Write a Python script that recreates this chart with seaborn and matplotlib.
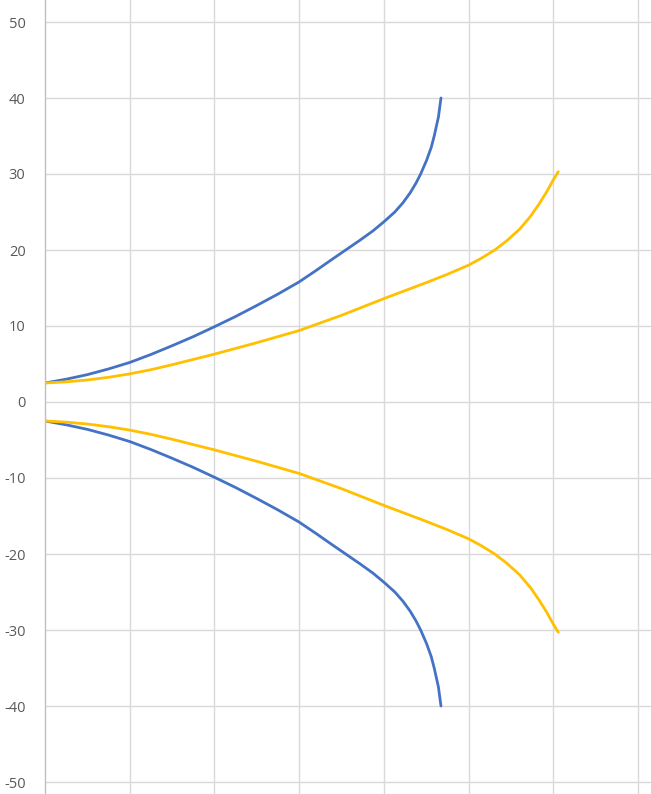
import matplotlib
matplotlib.use("Agg")
import matplotlib.pyplot as plt
import seaborn as sns
import numpy as np
import pandas as pd

# upper / lower branches of the two curves
blue_x = [0, 0.25, 0.5, 0.75, 1.0, 1.25, 1.5, 1.75, 2.0, 2.25, 2.5, 2.75, 3.0, 3.2, 3.38,
          3.55, 3.72, 3.87, 4.0, 4.13, 4.225, 4.31, 4.38, 4.435, 4.505, 4.56, 4.595, 4.645, 4.675]
blue_upper = [2.5, 3.0, 3.6, 4.35, 5.2, 6.25, 7.4, 8.6, 9.9, 11.25, 12.7, 14.2, 15.8, 17.3, 18.7,
              20.0, 21.3, 22.5, 23.7, 25.0, 26.2, 27.5, 28.8, 30.0, 31.8, 33.5, 35.0, 37.5, 40.0]
blue_lower = [-2.5, -3.0, -3.6, -4.35, -5.2, -6.25, -7.4, -8.6, -9.9, -11.25, -12.7, -14.2, -15.8, -17.3, -18.7,
              -20.0, -21.3, -22.5, -23.7, -25.0, -26.2, -27.5, -28.8, -30.0, -31.8, -33.5, -35.0, -37.5, -40.0]

yellow_x = [0, 0.25, 0.5, 0.75, 1.0, 1.25, 1.5, 1.75, 2.0, 2.25, 2.5, 2.75, 3.0, 3.25, 3.5, 3.75,
            4.0, 4.25, 4.5, 4.75, 5.0, 5.15, 5.31, 5.45, 5.6, 5.73, 5.83, 5.92, 6.0, 6.06]
yellow_upper = [2.5, 2.65, 2.9, 3.25, 3.7, 4.25, 4.9, 5.6, 6.3, 7.05, 7.8, 8.6, 9.4, 10.4, 11.4, 12.5,
                13.6, 14.65, 15.7, 16.8, 18.0, 18.9, 20.0, 21.2, 22.7, 24.4, 26.0, 27.6, 29.2, 30.3]
yellow_lower = [-2.5, -2.65, -2.9, -3.25, -3.7, -4.25, -4.9, -5.6, -6.3, -7.05, -7.8, -8.6, -9.4, -10.4, -11.4, -12.5,
                -13.6, -14.65, -15.7, -16.8, -18.0, -18.9, -20.0, -21.2, -22.7, -24.4, -26.0, -27.6, -29.2, -30.3]

y_ticks = [-50, -40, -30, -20, -10, 0, 10, 20, 30, 40, 50]
x_grid = [1, 2, 3, 4, 5, 6, 7]

colors = {"blue": "#4472C4", "yellow": "#FFC000"}


def build_frame():
    parts = []
    for name, xs, ups, lows in [("blue", blue_x, blue_upper, blue_lower),
                                ("yellow", yellow_x, yellow_upper, yellow_lower)]:
        parts.append(pd.DataFrame({"x": xs, "y": ups, "series": name, "branch": name + "_up"}))
        parts.append(pd.DataFrame({"x": xs, "y": lows, "series": name, "branch": name + "_down"}))
    return pd.concat(parts, ignore_index=True)


def main():
    df = build_frame()

    sns.set_theme(style="whitegrid")
    plt.rcParams['font.family'] = ['Open Sans', 'DejaVu Sans']
    plt.rcParams['axes.unicode_minus'] = False

    fig = plt.figure(figsize=(6.51, 7.94), dpi=100)
    ax = fig.add_axes([45 / 651, 0, 606 / 651, 1])

    sns.lineplot(data=df, x="x", y="y", hue="series", units="branch",
                 estimator=None, sort=False, palette=colors,
                 linewidth=2.0, legend=False, ax=ax)
    for line in ax.get_lines():
        line.set_solid_joinstyle("round")
        line.set_solid_capstyle("round")

    ax.set_xlim(0, 606 / 84.7)
    ax.set_ylim(-50 - 12 / 7.6, 50 + 22 / 7.6)
    ax.set_yticks(y_ticks)
    ax.set_xticks(x_grid)
    ax.set_xticklabels([])
    ax.set_xlabel("")
    ax.set_ylabel("")
    ax.grid(True, color="#D9D9D9", linewidth=1.0)
    ax.tick_params(axis="y", length=0, pad=14, labelsize=10.5, labelcolor="#595959")
    ax.tick_params(axis="x", length=0)

    for side in ["top", "right", "bottom"]:
        ax.spines[side].set_visible(False)
    ax.spines["left"].set_color("#BFBFBF")
    ax.spines["left"].set_linewidth(1.0)
    ax.set_facecolor("white")

    fig.savefig("out.png", dpi=100, facecolor="white")
    plt.close(fig)


if __name__ == "__main__":
    main()
